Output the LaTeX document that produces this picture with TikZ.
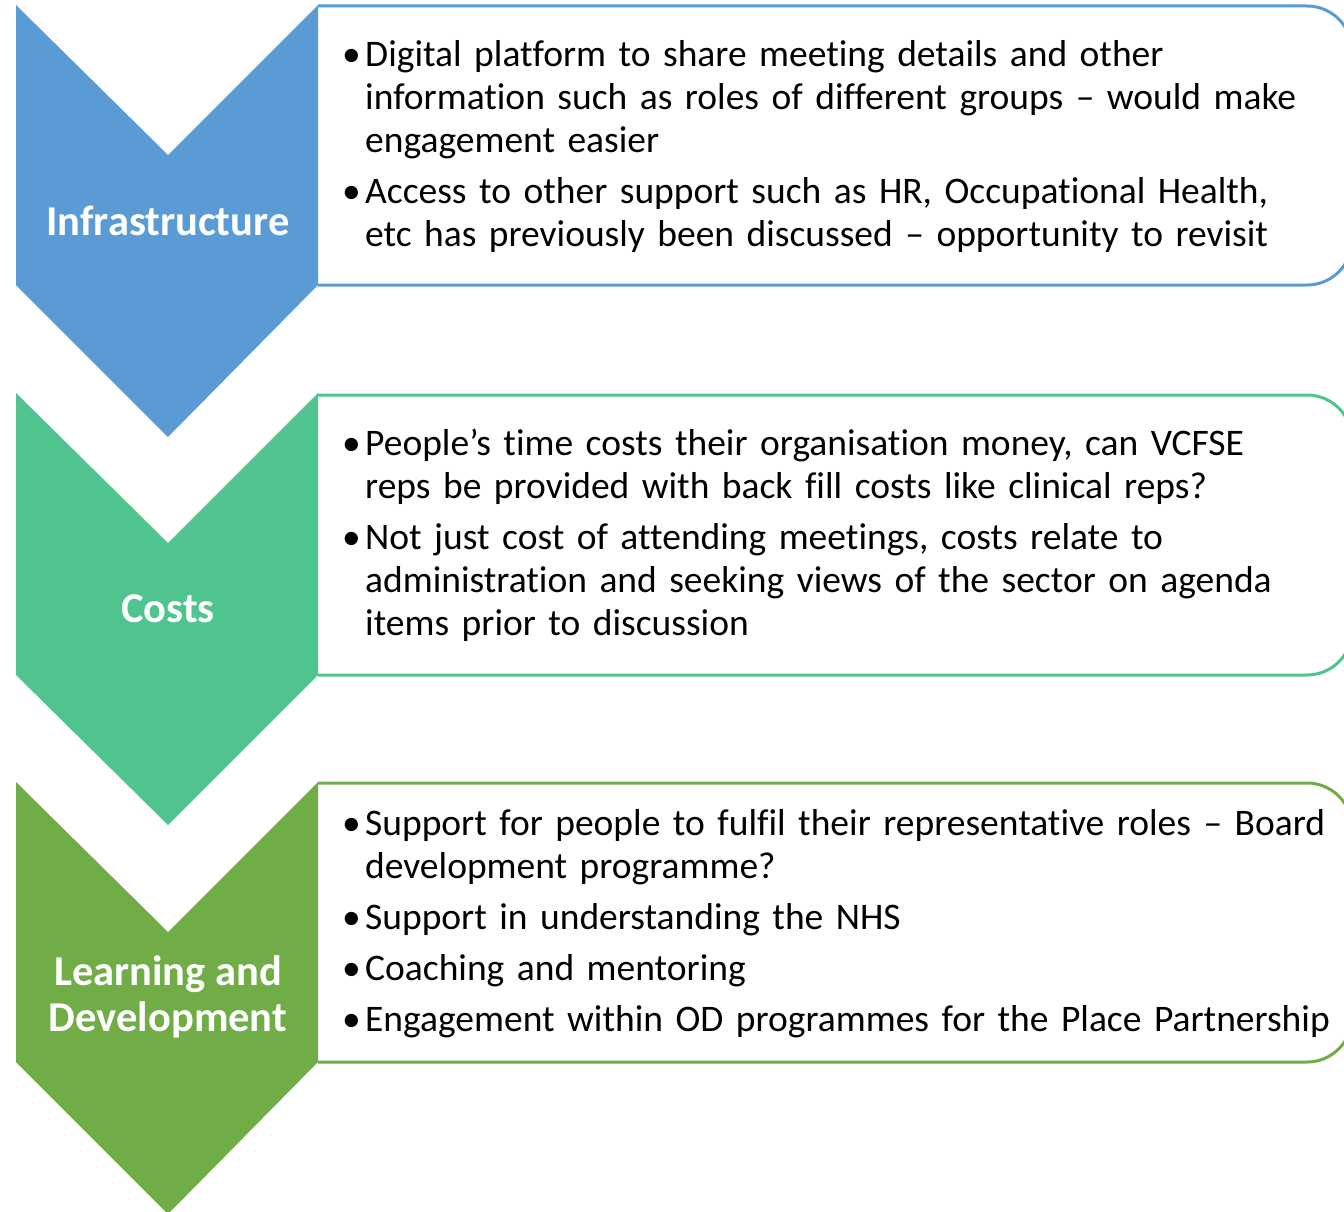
\documentclass[tikz,border=0pt]{standalone}
\usepackage{fontspec}
\setmainfont{Carlito}[Ligatures={NoCommon}]
\definecolor{infraBlue}{HTML}{5B9BD5}
\definecolor{costTeal}{HTML}{4FC48E}
\definecolor{learnGreen}{HTML}{70AD47}
\newcommand{\bpoint}[1]{\hangindent=23pt\hangafter=1\noindent\makebox[23pt][l]{\textbullet}#1\par}

\begin{document}
\begin{tikzpicture}[x=1pt,y=-1pt,
  panel/.style={draw=#1,line width=3pt,rounded corners=45pt,fill=white},
  chevtext/.style={text=white,align=center,font=\bfseries\fontsize{42.5}{46}\selectfont},
  bulletlist/.style={anchor=west,inner sep=0pt,text width=1010pt,align=left,
    font=\fontsize{37.5}{43}\selectfont\setlength{\parskip}{8pt}}]

\useasboundingbox (0,0) rectangle (1344,1212);

% Infrastructure
\draw[panel=infraBlue] (318,6) -- (1352,6) -- (1352,285) -- (318,285);
\coordinate (infraTop) at (16,5);
\fill[infraBlue] (infraTop) -- ++(152,150) -- ++(150,-150) -- ++(0,280)
  -- ++(-150,152) -- ++(-152,-152) -- cycle;
\node[chevtext] (infra) at (168,221) {Infrastructure};
\node[bulletlist] (infraList) at (342,147) {%
  \bpoint{Digital platform to share meeting details and other\newline information such as roles of different groups – would make\newline engagement easier}
  \bpoint{Access to other support such as HR, Occupational Health,\newline etc has previously been discussed – opportunity to revisit}};

% Costs
\draw[panel=costTeal] (318,395) -- (1352,395) -- (1352,675) -- (318,675);
\coordinate (costTop) at (16,393);
\fill[costTeal] (costTop) -- ++(152,150) -- ++(150,-150) -- ++(0,282)
  -- ++(-150,150) -- ++(-152,-150) -- cycle;
\node[chevtext] (cost) at (168,609) {Costs};
\node[bulletlist] (costList) at (342,535) {%
  \bpoint{People’s time costs their organisation money, can VCFSE\newline reps be provided with back fill costs like clinical reps?}
  \bpoint{Not just cost of attending meetings, costs relate to\newline administration and seeking views of the sector on agenda\newline items prior to discussion}};

% Learning and Development
\draw[panel=learnGreen] (318,783) -- (1352,783) -- (1352,1062) -- (318,1062);
\coordinate (learnTop) at (16,782);
\fill[learnGreen] (learnTop) -- ++(152,150) -- ++(150,-150) -- ++(0,280)
  -- ++(-150,152) -- ++(-152,-152) -- cycle;
\node[chevtext] (learn) at (168,997) {Learning and\\Development};
\node[bulletlist] (learnList) at (342,924) {%
  \bpoint{Support for people to fulfil their representative roles – Board\newline development programme?}
  \bpoint{Support in understanding the NHS}
  \bpoint{Coaching and mentoring}
  \bpoint{Engagement within OD programmes for the Place Partnership}};
\end{tikzpicture}
\end{document}
